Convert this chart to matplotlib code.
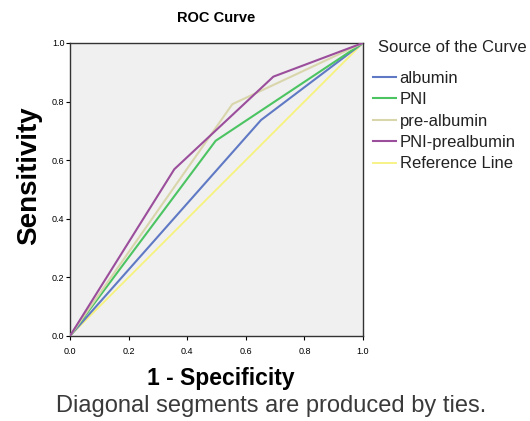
import matplotlib.pyplot as plt

plt.rcParams['font.family'] = ['Liberation Sans', 'DejaVu Sans']

# ROC points (1 - specificity, sensitivity)
albumin_x = [0.0, 0.652, 1.0]
albumin_y = [0.0, 0.737, 1.0]
pni_x = [0.0, 0.497, 1.0]
pni_y = [0.0, 0.666, 1.0]
prealb_x = [0.0, 0.554, 1.0]
prealb_y = [0.0, 0.791, 1.0]
pni_prealb_x = [0.0, 0.356, 0.694, 1.0]
pni_prealb_y = [0.0, 0.569, 0.885, 1.0]
ref_x = [0.0, 1.0]
ref_y = [0.0, 1.0]

ticks = [0.0, 0.2, 0.4, 0.6, 0.8, 1.0]
tick_labels = ['0.0', '0.2', '0.4', '0.6', '0.8', '1.0']

fig = plt.figure(figsize=(5.3, 4.21), dpi=100)
ax = fig.add_axes([0.132, 0.202, 0.553, 0.696])
ax.set_facecolor('#F0F0F0')

ax.plot(ref_x, ref_y, color='#F7F27E', lw=1.3, label='Reference Line', zorder=2)
ax.plot(albumin_x, albumin_y, color='#5F79C4', lw=1.5, label='albumin', zorder=3)
ax.plot(pni_x, pni_y, color='#4CC462', lw=1.5, label='PNI', zorder=3)
ax.plot(prealb_x, prealb_y, color='#D9D6AC', lw=1.5, label='pre-albumin', zorder=3)
ax.plot(pni_prealb_x, pni_prealb_y, color='#9B4E9B', lw=1.5, label='PNI-prealbumin', zorder=4)

ax.set_xlim(0, 1)
ax.set_ylim(0, 1)
ax.set_xticks(ticks)
ax.set_xticklabels(tick_labels)
ax.set_yticks(ticks)
ax.set_yticklabels(tick_labels)
ax.tick_params(labelsize=6.5, length=3, width=0.8, pad=1)
ax.tick_params(axis='x', pad=5)
for s in ax.spines.values():
    s.set_linewidth(1.0)
    s.set_color('#333333')

ax.set_title('ROC Curve', fontsize=10.5, fontweight='bold', pad=15)
ax.set_ylabel('Sensitivity', fontsize=20, fontweight='bold')
ax.yaxis.set_label_coords(-0.095, 0.546)
ax.set_xlabel('1 - Specificity', fontsize=16.5, fontweight='bold')
ax.xaxis.set_label_coords(0.515, -0.105)
fig.text(0.512, 0.036, 'Diagonal segments are produced by ties.',
         fontsize=17, color='#3A3A3A', ha='center', va='center')

fig.text(378 / 530, 1 - 48 / 421, 'Source of the Curve', fontsize=12,
         color='#222222', ha='left', va='center')

h, l = ax.get_legend_handles_labels()
order = [1, 2, 3, 4, 0]
leg = fig.legend([h[i] for i in order], [l[i] for i in order],
                 loc='upper left', bbox_to_anchor=(373 / 530, 1 - 71 / 421),
                 frameon=False, fontsize=12, handlelength=1.4,
                 handletextpad=0.2, labelspacing=0.38, borderpad=0,
                 borderaxespad=0)
for t in leg.get_texts():
    t.set_color('#222222')

fig.savefig('out.png', dpi=100)
